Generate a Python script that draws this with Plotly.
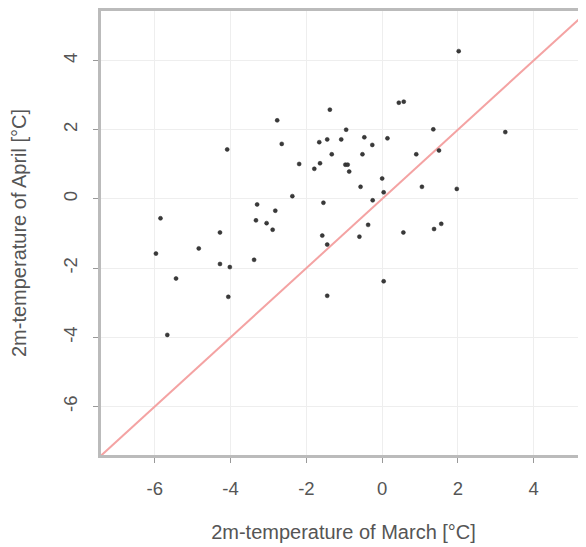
import plotly.graph_objects as go

march = [-1.38, -2.77, -0.95, -4.09, -2.65, -1.66, -1.45, -1.08, -1.33, -2.19,
         -1.64, -1.79, -0.97, -0.91, -0.87, -2.37, -1.55, -3.30, -2.82, -3.33,
         -3.05, -2.89, -5.85, -4.28, -1.58, -1.45, -4.84, 2.02, 0.44, 0.57,
         1.35, 3.25, -0.47, 0.14, -0.26, 1.50, -0.52, 0.90, 0.00, -0.57,
         1.05, 1.97, 0.04, -0.25, -0.37, -0.60, 0.56, 1.37, 1.56, -5.97,
         -4.28, -4.02, -3.38, -5.44, -4.06, -1.45, -5.67, 0.04]
april = [2.58, 2.27, 2.00, 1.43, 1.59, 1.64, 1.72, 1.72, 1.29, 1.01,
         1.03, 0.87, 0.99, 0.99, 0.79, 0.08, -0.11, -0.16, -0.34, -0.62,
         -0.70, -0.89, -0.56, -0.97, -1.06, -1.32, -1.43, 4.27, 2.78, 2.81,
         2.01, 1.93, 1.78, 1.75, 1.56, 1.40, 1.29, 1.29, 0.59, 0.35,
         0.35, 0.29, 0.19, -0.04, -0.75, -1.09, -0.97, -0.87, -0.72, -1.58,
         -1.88, -1.97, -1.76, -2.30, -2.83, -2.80, -3.93, -2.38]
diag = [-8, 6]
ticks = [-6, -4, -2, 0, 2, 4]

fig = go.Figure()
fig.add_trace(go.Scatter(x=diag, y=diag, mode="lines",
                         line=dict(color="#f4a3a3", width=2), hoverinfo="skip"))
fig.add_trace(go.Scatter(x=march, y=april, mode="markers",
                         marker=dict(size=4, color="#3a3a3a",
                                     line=dict(width=0.5, color="#222"))))

fam = "Liberation Sans, Arial, sans-serif"
tickfont = dict(family=fam, size=18.5, color="#555")
titlefont = dict(family=fam, size=20, color="#555")
fig.update_layout(
    width=578, height=539,
    margin=dict(l=93, r=0, t=3, b=92),
    paper_bgcolor="white", plot_bgcolor="white",
    showlegend=False, font=tickfont,
    xaxis=dict(range=[-7.42, 5.38], tickvals=ticks, ticktext=[str(t) for t in ticks],
               showgrid=True, gridcolor="#eeeeee", gridwidth=1, zeroline=False,
               showline=True, linecolor="#bbbbbb", linewidth=3, mirror=True,
               ticks="outside", ticklen=5, tickcolor="#999", tickwidth=1,
               ticklabelstandoff=10, tickfont=tickfont,
               title=dict(text="2m-temperature of March [°C]", standoff=27, font=titlefont)),
    yaxis=dict(range=[-7.40, 5.43], tickvals=ticks, ticktext=[str(t) for t in ticks],
               showgrid=True, gridcolor="#eeeeee", gridwidth=1, zeroline=False,
               showline=True, linecolor="#bbbbbb", linewidth=3, mirror=False,
               ticks="outside", ticklen=5, tickcolor="#999", tickwidth=1,
               tickangle=-90, ticklabelstandoff=9, tickfont=tickfont,
               title=dict(text="2m-temperature of April [°C]", standoff=31, font=titlefont)),
)
fig.write_html("out.html")
